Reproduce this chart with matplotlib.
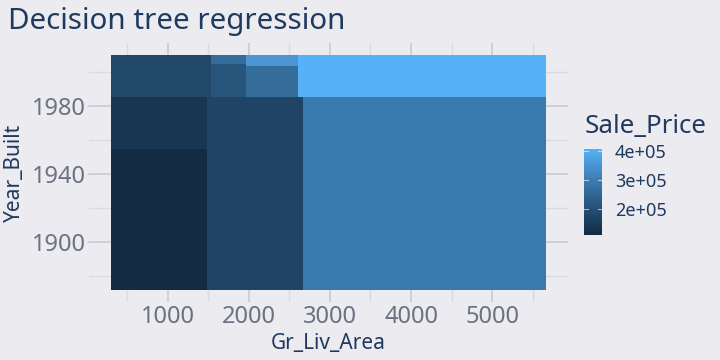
import numpy as np
import matplotlib
matplotlib.use("Agg")
import matplotlib.pyplot as plt
from matplotlib.colors import ListedColormap, Normalize
from matplotlib.patches import Rectangle

# ---------------- data ----------------
title = "Decision tree regression"
x_label = "Gr_Liv_Area"
y_label = "Year_Built"
legend_title = "Sale_Price"

xmin = [301, 301, 1485, 2670, 301, 1535, 1535, 1967, 1967, 2609]
xmax = [1485, 1485, 2670, 5666, 1535, 1967, 1967, 2609, 2609, 5666]
ymin = [1871.3, 1954.7, 1871.3, 1871.3, 1985.5, 1985.5, 2005.1, 1985.5, 2003.9, 1985.5]
ymax = [1954.7, 1985.5, 1985.5, 1985.5, 2010.4, 2005.1, 2010.4, 2003.9, 2010.4, 2010.4]
sale_price = [111000, 137000, 172000, 290000, 180000, 212000, 262000, 262000, 350000, 405000]

x_ticks = [1000, 2000, 3000, 4000, 5000]
x_minor = [500, 1500, 2500, 3500, 4500, 5500]
y_ticks = [1900, 1940, 1980]
y_minor = [1880, 1920, 1960, 2000]
cbar_ticks = [200000, 300000, 400000]
cbar_labels = ["2e+05", "3e+05", "4e+05"]

low_col = "#132B43"
high_col = "#56B1F7"

# ---------------- Lab gradient (ggplot default) ----------------
def hex2rgb(h):
    h = h.lstrip('#')
    return np.array([int(h[i:i+2], 16) / 255 for i in (0, 2, 4)])

M = np.array([[0.4124, 0.3576, 0.1805], [0.2126, 0.7152, 0.0722], [0.0193, 0.1192, 0.9505]])
WHITE = np.array([0.95047, 1.0, 1.08883])

def rgb2lab(c):
    lin = np.where(c <= 0.04045, c / 12.92, ((c + 0.055) / 1.055) ** 2.4)
    xyz = M @ lin / WHITE
    f = np.where(xyz > 0.008856, np.cbrt(xyz), 7.787 * xyz + 16 / 116)
    return np.array([116 * f[1] - 16, 500 * (f[0] - f[1]), 200 * (f[1] - f[2])])

def lab2rgb(lab):
    L, a, b = lab
    fy_ = (L + 16) / 116
    fx_ = fy_ + a / 500
    fz_ = fy_ - b / 200
    f = np.array([fx_, fy_, fz_])
    xyz = np.where(f ** 3 > 0.008856, f ** 3, (f - 16 / 116) / 7.787) * WHITE
    lin = np.linalg.inv(M) @ xyz
    lin = np.clip(lin, 0, 1)
    c = np.where(lin <= 0.0031308, 12.92 * lin, 1.055 * lin ** (1 / 2.4) - 0.055)
    return np.clip(c, 0, 1)

l0, l1 = rgb2lab(hex2rgb(low_col)), rgb2lab(hex2rgb(high_col))
cols = [lab2rgb(l0 + (l1 - l0) * t) for t in np.linspace(0, 1, 256)]
cmap = ListedColormap(cols)
vmin, vmax = min(sale_price), max(sale_price)
norm = Normalize(vmin, vmax)

# ---------------- figure ----------------
BG = "#EBEBF0"
NAVY = "#1F3A5F"
GRAY = "#6B7280"
W, H = 720, 360
plt.rcParams['font.family'] = ['Noto Sans', 'DejaVu Sans']

fig = plt.figure(figsize=(7.2, 3.6), dpi=100, facecolor=BG)

def fx(x):
    return x / W

def fy(y):
    return 1 - y / H

pl, pr, pt, pb = 89, 568, 43, 302
ax = fig.add_axes([fx(pl), fy(pb), fx(pr - pl), (pb - pt) / H])
ax.set_facecolor(BG)
for s in ax.spines.values():
    s.set_visible(False)

dx = (max(xmax) - min(xmin)) * 0.05
dy = (max(ymax) - min(ymin)) * 0.05
ax.set_xlim(min(xmin) - dx, max(xmax) + dx)
ax.set_ylim(min(ymin) - dy, max(ymax) + dy)

for v in x_minor:
    ax.axvline(v, color="#DADAE0", lw=1.0, zorder=0)
for v in x_ticks:
    ax.axvline(v, color="#CDCDD3", lw=1.3, zorder=0)
for v in y_minor:
    ax.axhline(v, color="#DADAE0", lw=1.0, zorder=0)
for v in y_ticks:
    ax.axhline(v, color="#CDCDD3", lw=1.3, zorder=0)

for x0, x1, y0, y1, v in zip(xmin, xmax, ymin, ymax, sale_price):
    ax.add_patch(Rectangle((x0, y0), x1 - x0, y1 - y0, facecolor=cmap(norm(v)),
                           edgecolor='none', zorder=2))

ax.set_xticks(x_ticks)
ax.set_yticks(y_ticks)
ax.set_xticklabels([str(t) for t in x_ticks])
ax.set_yticklabels([str(t) for t in y_ticks])
ax.tick_params(axis='x', length=0, labelsize=17, labelcolor=GRAY, pad=2)
ax.tick_params(axis='y', length=1.8, width=1.0, color="#CDCDD3", labelsize=17,
               labelcolor=GRAY, pad=0.5)

fig.text(fx(328.5), fy(349), x_label, fontsize=15, color=NAVY, va='baseline', ha='center')
fig.text(fx(14), fy(172.5), y_label, fontsize=15, color=NAVY, va='center', ha='center',
         rotation=90)

fig.text(fx(8), fy(28.5), title, fontsize=21.3, color=NAVY, va='baseline', ha='left')

# ---------------- colorbar ----------------
cb_l, cb_r, cb_t, cb_b = 584.3, 601.7, 149.3, 235
cax = fig.add_axes([fx(cb_l), fy(cb_b), fx(cb_r - cb_l), (cb_b - cb_t) / H])
grad = np.linspace(vmin, vmax, 256).reshape(-1, 1)
cax.imshow(grad, aspect='auto', cmap=cmap, norm=norm, origin='lower',
           extent=[0, 1, vmin, vmax])
cax.set_xlim(0, 1)
cax.set_ylim(vmin, vmax)
cax.set_xticks([])
cax.set_yticks([])
for s in cax.spines.values():
    s.set_visible(False)
for t, lab in zip(cbar_ticks, cbar_labels):
    cax.plot([0, 0.2], [t, t], color='white', lw=0.8, alpha=0.6)
    cax.plot([0.8, 1], [t, t], color='white', lw=0.8, alpha=0.6)
    y_px = cb_b - (t - vmin) / (vmax - vmin) * (cb_b - cb_t)
    fig.text(fx(615), fy(y_px), lab, fontsize=13, color=NAVY, va='center_baseline', ha='left')

fig.text(fx(585), fy(133), legend_title, fontsize=18.7, color=NAVY, va='baseline', ha='left')

fig.savefig("out.png", dpi=100, facecolor=BG)
